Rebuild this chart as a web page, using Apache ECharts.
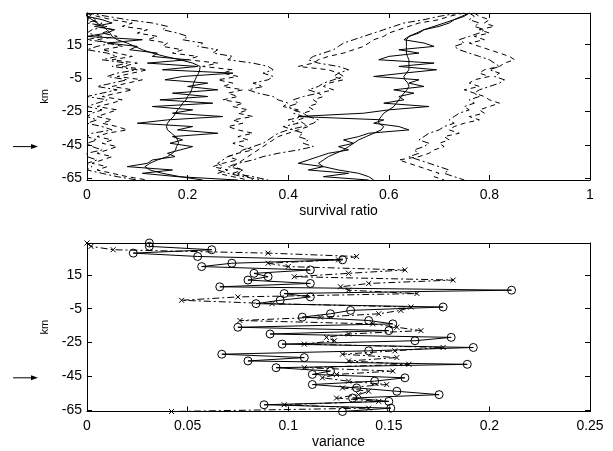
<!DOCTYPE html>
<html><head><meta charset="utf-8">
<script src="https://cdn.jsdelivr.net/npm/echarts@6/dist/echarts.min.js"></script>
<style>html,body{margin:0;padding:0;background:#fff}#c{width:613px;height:451px}</style>
</head><body><div id="c"></div>
<script>
// depth levels (km), top to bottom
const km = [34,32,30,28,26,24,22,20,18,16,14,12,10,8,6,4,2,0,-2,-4,-6,-8,-10,-12,-14,-16,-18,-20,-22,-24,-26,-28,-30,-32,-34,-36,-38,-40,-42,-44,-46,-48,-50,-52,-54,-56,-58,-60,-62,-64,-66];
const kmTicks = [15,-5,-25,-45,-65];
const arrowKm = -46;

// top panel: survival ratio
const leftJag = [0,0,0.03,0.05,0.015,0.055,0.04,0.0,0.11,0.04,0.10,0.085,0.14,0.13,0.20,0.12,0.22,0.15,0.29,0.19,0.155,0.24,0.20,0.26,0.17,0.24,0.145,0.25,0.13,0.21,0.17,0.27,0.16,0.10,0.21,0.18,0.26,0.17,0.19,0.165,0.21,0.185,0.16,0.175,0.13,0.12,0.08,0.17,0.11,0.18,0.30];
const leftSmooth = [0,0,0.01,0.02,0.03,0.04,0.046,0.05,0.06,0.08,0.095,0.11,0.13,0.155,0.185,0.21,0.225,0.224,0.222,0.218,0.215,0.212,0.21,0.208,0.205,0.2,0.197,0.19,0.186,0.18,0.176,0.172,0.165,0.16,0.158,0.16,0.168,0.176,0.18,0.182,0.178,0.176,0.17,0.16,0.14,0.125,0.115,0.125,0.15,0.185,0.23];
const leftLoDashDot = [0,0,0.02,0.0,0.04,0.01,0.0,0.03,0.0,0.05,0.02,0.0,0.04,0.06,0.03,0.08,0.05,0.1,0.06,0.04,0.08,0.05,0.02,0.06,0.03,0.0,0.04,0.02,0.0,0.03,0.01,0.0,0.02,0.0,0.03,0.05,0.01,0.0,0.02,0.0,0.01,0.03,0.0,0.0,0.02,0.0,0.01,0.0,0.03,0.06,0.1];
const leftLoDash = [0,0.01,0.0,0.03,0.02,0.05,0.03,0.06,0.02,0.04,0.07,0.03,0.06,0.09,0.05,0.1,0.07,0.12,0.09,0.06,0.11,0.08,0.05,0.09,0.06,0.03,0.07,0.05,0.02,0.06,0.04,0.02,0.05,0.03,0.06,0.08,0.04,0.02,0.05,0.03,0.06,0.04,0.02,0.05,0.03,0.01,0.04,0.02,0.05,0.08,0.12];
const leftHiDash = [0,0.02,0.05,0.09,0.07,0.12,0.1,0.14,0.12,0.16,0.15,0.19,0.17,0.22,0.2,0.26,0.23,0.29,0.27,0.3,0.26,0.29,0.27,0.31,0.28,0.3,0.27,0.31,0.29,0.32,0.3,0.33,0.29,0.31,0.28,0.3,0.33,0.3,0.32,0.29,0.31,0.33,0.3,0.28,0.3,0.27,0.25,0.28,0.26,0.29,0.32];
const leftHiDashDot = [0,0.04,0.08,0.13,0.16,0.15,0.18,0.2,0.19,0.23,0.22,0.26,0.25,0.29,0.28,0.33,0.36,0.37,0.35,0.37,0.36,0.33,0.35,0.32,0.34,0.37,0.38,0.4,0.39,0.42,0.41,0.43,0.4,0.42,0.39,0.41,0.43,0.42,0.44,0.43,0.45,0.42,0.38,0.35,0.33,0.3,0.28,0.31,0.29,0.33,0.36];

const rightJag = [0.76,0.75,0.73,0.72,0.70,0.67,0.66,0.64,0.63,0.67,0.69,0.62,0.66,0.60,0.58,0.69,0.62,0.695,0.63,0.57,0.66,0.64,0.67,0.61,0.65,0.62,0.63,0.59,0.68,0.60,0.55,0.42,0.59,0.57,0.62,0.64,0.56,0.54,0.51,0.53,0.50,0.52,0.48,0.46,0.44,0.42,0.47,0.44,0.52,0.47,0.56];
const rightSmooth = [0.76,0.745,0.73,0.71,0.69,0.67,0.655,0.64,0.635,0.635,0.635,0.635,0.635,0.637,0.64,0.64,0.64,0.64,0.635,0.63,0.632,0.638,0.64,0.636,0.63,0.625,0.62,0.615,0.61,0.6,0.59,0.585,0.58,0.58,0.59,0.585,0.57,0.555,0.54,0.53,0.52,0.51,0.495,0.48,0.47,0.46,0.47,0.5,0.54,0.56,0.57];
const rightHiDash = [0.77,0.78,0.8,0.79,0.81,0.78,0.8,0.77,0.79,0.76,0.78,0.8,0.82,0.84,0.85,0.83,0.82,0.79,0.78,0.8,0.77,0.76,0.78,0.75,0.77,0.79,0.8,0.82,0.8,0.78,0.79,0.76,0.78,0.75,0.73,0.72,0.74,0.71,0.72,0.7,0.71,0.69,0.68,0.66,0.62,0.64,0.66,0.68,0.7,0.69,0.71];
const rightHiDashDot = [0.76,0.77,0.76,0.78,0.77,0.79,0.78,0.76,0.74,0.75,0.73,0.74,0.76,0.78,0.8,0.81,0.82,0.8,0.82,0.81,0.83,0.82,0.8,0.78,0.77,0.78,0.76,0.77,0.75,0.76,0.74,0.73,0.72,0.73,0.71,0.7,0.68,0.67,0.66,0.68,0.67,0.65,0.66,0.64,0.66,0.68,0.7,0.72,0.71,0.73,0.75];
const rightLoDash = [0.75,0.72,0.7,0.66,0.64,0.62,0.6,0.59,0.57,0.56,0.55,0.53,0.51,0.48,0.46,0.45,0.42,0.48,0.5,0.49,0.51,0.48,0.47,0.49,0.46,0.47,0.45,0.46,0.44,0.45,0.43,0.44,0.42,0.43,0.44,0.42,0.4,0.38,0.37,0.36,0.35,0.34,0.33,0.32,0.31,0.3,0.29,0.31,0.3,0.32,0.33];
const rightLoDashDot = [0.74,0.7,0.67,0.63,0.61,0.59,0.57,0.55,0.53,0.51,0.5,0.49,0.47,0.45,0.44,0.46,0.5,0.52,0.5,0.51,0.49,0.47,0.46,0.44,0.46,0.43,0.41,0.42,0.4,0.41,0.43,0.44,0.46,0.45,0.43,0.4,0.38,0.37,0.36,0.35,0.33,0.31,0.3,0.28,0.27,0.26,0.27,0.26,0.28,0.31,0.35];

// bottom panel: variance
const varCircle = [0.031,0.031,0.062,0.023,0.055,0.127,0.072,0.057,0.111,0.083,0.090,0.080,0.111,0.066,0.211,0.098,0.111,0.096,0.084,0.177,0.131,0.121,0.107,0.140,0.152,0.075,0.150,0.091,0.181,0.163,0.097,0.192,0.140,0.067,0.108,0.080,0.189,0.094,0.121,0.112,0.158,0.143,0.112,0.134,0.154,0.175,0.132,0.150,0.088,0.151,0.127];
const varCross = [0,0.002,0.013,0.09,0.134,0.125,0.090,0.10,0.158,0.13,0.103,0.182,0.140,0.126,0.130,0.164,0.075,0.047,0.092,0.161,0.156,0.145,0.116,0.076,0.142,0.154,0.166,0.13,0.119,0.123,0.108,0.177,0.153,0.127,0.154,0.13,0.16,0.108,0.152,0.124,0.117,0.13,0.149,0.127,0.140,0.135,0.124,0.145,0.098,0.14,0.042];

const FONT = '"Liberation Sans", Arial, Helvetica, sans-serif';
const DASH = [5, 4];
const DASHDOT = [7, 3, 2, 3];
const pair = xs => xs.map((v, i) => [v, km[i]]);

function topLine(name, data, type) {
  return {
    name, type: 'line', xAxisIndex: 0, yAxisIndex: 0, data: pair(data),
    showSymbol: false, symbol: 'none', animation: false,
    lineStyle: { color: '#000', width: 1, type }
  };
}

function xAx(gridIndex, pos, min, max, interval, name, labels) {
  return {
    type: 'value', gridIndex, position: pos, min, max, interval,
    name: labels ? name : '', nameLocation: 'middle', nameGap: 24,
    nameTextStyle: { color: '#000', fontFamily: FONT, fontSize: 14 },
    axisLine: { show: true, onZero: false, lineStyle: { color: '#000', width: 1 } },
    axisTick: { show: true, inside: true, length: 5, lineStyle: { color: '#000' } },
    axisLabel: { show: labels, color: '#000', fontFamily: FONT, fontSize: 14, margin: 8 },
    splitLine: { show: false }
  };
}
function yAx(gridIndex, pos, labels) {
  return {
    type: 'value', gridIndex, position: pos, min: -66, max: 34,
    name: labels ? 'km' : '', nameLocation: 'middle', nameGap: 35,
    nameTextStyle: { color: '#000', fontFamily: FONT, fontSize: 11 },
    axisLine: { show: true, onZero: false, lineStyle: { color: '#000', width: 1 } },
    axisTick: { show: true, inside: true, length: 5, customValues: kmTicks, lineStyle: { color: '#000' } },
    axisLabel: { show: labels, customValues: kmTicks, color: '#000', fontFamily: FONT, fontSize: 14, margin: 5 },
    splitLine: { show: false }
  };
}

const chart = echarts.init(document.getElementById('c'));
chart.setOption({
  animation: false,
  backgroundColor: '#fff',
  grid: [
    { left: 87, right: 23, top: 13, height: 167 },
    { left: 87, right: 23, top: 243, height: 168.5 }
  ],
  xAxis: [
    xAx(0, 'bottom', 0, 1, 0.2, 'survival ratio', true),
    xAx(0, 'top', 0, 1, 0.2, '', false),
    xAx(1, 'bottom', 0, 0.25, 0.05, 'variance', true),
    xAx(1, 'top', 0, 0.25, 0.05, '', false)
  ],
  yAxis: [
    yAx(0, 'left', true), yAx(0, 'right', false),
    yAx(1, 'left', true), yAx(1, 'right', false)
  ],
  series: [
    topLine('leftLoDashDot', leftLoDashDot, DASHDOT),
    topLine('leftLoDash', leftLoDash, DASH),
    topLine('leftHiDash', leftHiDash, DASH),
    topLine('leftHiDashDot', leftHiDashDot, DASHDOT),
    topLine('leftSmooth', leftSmooth, 'solid'),
    topLine('leftJag', leftJag, 'solid'),
    topLine('rightLoDashDot', rightLoDashDot, DASHDOT),
    topLine('rightLoDash', rightLoDash, DASH),
    topLine('rightHiDash', rightHiDash, DASH),
    topLine('rightHiDashDot', rightHiDashDot, DASHDOT),
    topLine('rightSmooth', rightSmooth, 'solid'),
    topLine('rightJag', rightJag, 'solid'),
    {
      name: 'cross', type: 'line', xAxisIndex: 2, yAxisIndex: 2, data: pair(varCross),
      symbol: 'path://M0,0L10,10M10,0L0,10', symbolSize: 5, showSymbol: true,
      itemStyle: { color: 'none', borderColor: '#000', borderWidth: 1 },
      lineStyle: { color: '#000', width: 1, type: DASHDOT }
    },
    {
      name: 'circle', type: 'line', xAxisIndex: 2, yAxisIndex: 2, data: pair(varCircle),
      symbol: 'circle', symbolSize: 8, showSymbol: true,
      itemStyle: { color: 'none', borderColor: '#000', borderWidth: 1 },
      lineStyle: { color: '#000', width: 1, type: 'solid' }
    }
  ]
});

// arrows pointing at a depth level, left of each panel
const g = [];
[0, 1].forEach(gi => {
  const y = chart.convertToPixel({ gridIndex: gi }, [0, arrowKm])[1];
  g.push({ type: 'line', shape: { x1: 13, y1: y, x2: 33, y2: y }, style: { stroke: '#000', lineWidth: 1 } });
  g.push({ type: 'polygon', shape: { points: [[31, y - 2.5], [38, y], [31, y + 2.5]] }, style: { fill: '#000' } });
});
chart.setOption({ graphic: g });
</script>
</body></html>
